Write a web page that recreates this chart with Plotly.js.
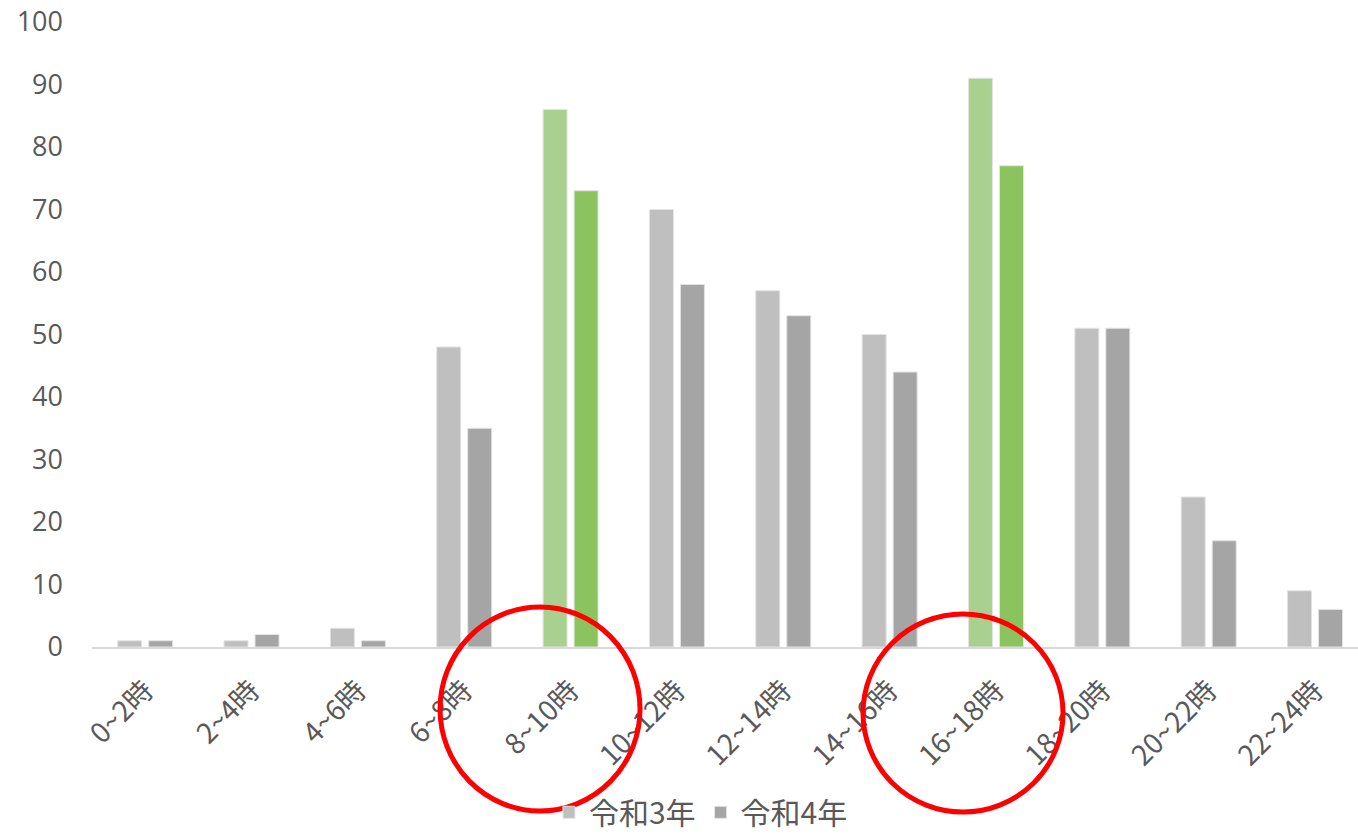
<!DOCTYPE html>
<html>
<head>
<meta charset="utf-8">
<script src="https://cdn.plot.ly/plotly-3.0.1.min.js"></script>
<style>html,body{margin:0;padding:0;background:#fff;}#chart{width:1358px;height:834px;}</style>
</head>
<body>
<div id="chart"></div>
<script>
const categories = ["0~2時","2~4時","4~6時","6~8時","8~10時","10~12時","12~14時","14~16時","16~18時","18~20時","20~22時","22~24時"];
const seriesNames = ["令和3年","令和4年"];
const r3Values = [1, 1, 3, 48, 86, 70, 57, 50, 91, 51, 24, 9];
const r4Values = [1, 2, 1, 35, 73, 58, 53, 44, 77, 51, 17, 6];
const highlighted = ["8~10時","16~18時"];
const yTicks = [0,10,20,30,40,50,60,70,80,90,100];

const font = '"Noto Sans CJK JP", "Noto Sans", sans-serif';
function colors(base, hl) { return categories.map(c => highlighted.includes(c) ? hl : base); }

const traces = [
  {type:'bar', name:seriesNames[0], x:categories, y:r3Values,
   marker:{color:colors('#bfbfbf','#a9d08e'), line:{color:'#e3e3e3', width:1}}},
  {type:'bar', name:seriesNames[1], x:categories, y:r4Values,
   marker:{color:colors('#a5a5a5','#8bc45e'), line:{color:'#e3e3e3', width:1}}}
];

const layout = {
  width:1358, height:834,
  margin:{l:92, r:0, t:22, b:187},
  paper_bgcolor:'#fff', plot_bgcolor:'#fff',
  barmode:'group', bargap:0.417, bargroupgap:0.226,
  font:{family:font, color:'#595959', size:22},
  xaxis:{type:'category', range:[-0.5, 11.404], tickangle:-45, showgrid:false, automargin:false,
         showline:true, linecolor:'#d9d9d9', linewidth:2, zeroline:false, ticks:'', ticklabelstandoff:14,
         tickfont:{family:font, size:28, color:'#595959'}},
  yaxis:{range:[0,100], tickvals:yTicks, showgrid:false, zeroline:false, showline:false, automargin:false,
         ticks:'', ticklabelstandoff:28, tickfont:{family:'"Open Sans", "Noto Sans", sans-serif', size:27, color:'#595959'}},
  showlegend:true,
  legend:{orientation:'h', x:0.481, xanchor:'center', yref:'container', y:0.026, yanchor:'middle',
          bgcolor:'rgba(0,0,0,0)', font:{family:font, size:30, color:'#595959'}, itemwidth:30},
  shapes:[
    {type:'circle', xref:'paper', yref:'paper', xsizemode:'pixel', ysizemode:'pixel',
     xanchor:0.3539, yanchor:-0.0992, x0:-100, x1:100, y0:-102, y1:102,
     line:{color:'#ff0000', width:5}},
    {type:'circle', xref:'paper', yref:'paper', xsizemode:'pixel', ysizemode:'pixel',
     xanchor:0.688, yanchor:-0.1056, x0:-100, x1:100, y0:-99, y1:99,
     line:{color:'#ff0000', width:5}}
  ]
};

Plotly.newPlot('chart', traces, layout, {displayModeBar:false, staticPlot:true});
</script>
</body>
</html>
